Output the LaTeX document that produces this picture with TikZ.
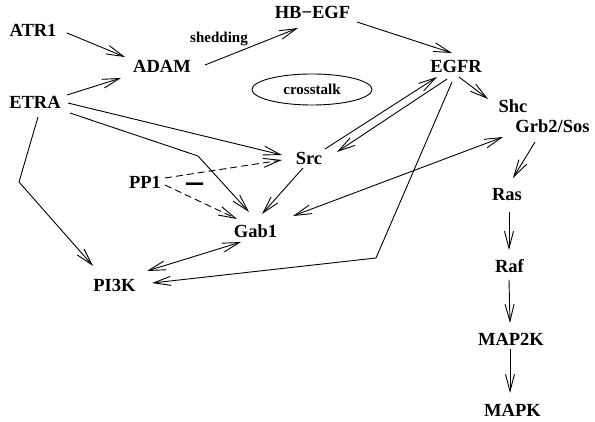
\documentclass[tikz,border=0pt]{standalone}
\usepackage{fontspec}
\setmainfont{Liberation Serif}
\usetikzlibrary{arrows.meta,calc,shapes.geometric}

\tikzset{
  lbl/.style={anchor=base, inner sep=0pt, font=\fontsize{18.5}{20}\selectfont\bfseries},
  small/.style={anchor=base, inner sep=0pt, font=\fontsize{15}{17}\selectfont\bfseries},
  link/.style={line width=0.9pt, -{Straight Barb[length=17pt,width=9pt,line width=0.9pt]}},
  both/.style={line width=0.9pt, {Straight Barb[length=17pt,width=9pt,line width=0.9pt]}-{Straight Barb[length=17pt,width=9pt,line width=0.9pt]}},
  inhib/.style={link, dash pattern=on 7pt off 4pt},
}

\begin{document}
\begin{tikzpicture}[x=1pt,y=-1pt]
  \useasboundingbox (0,0) rectangle (595,422);

  % signalling species
  \node[lbl] (ATR1)  at (33,37)    {ATR1};
  \node[lbl] (ADAM)  at (162,73)   {ADAM};
  \node[small] (shed) at (219,43)  {shedding};
  \node[lbl] (HBEGF) at (312.5,19) {HB−EGF};
  \node[ellipse, draw, line width=0.9pt, inner sep=0pt, minimum width=120pt, minimum height=31pt,
        font=\fontsize{15}{17}\selectfont\bfseries] (xtalk) at (312,89.5) {crosstalk};
  \node[lbl] (EGFR)  at (456,73)   {EGFR};
  \node[lbl] (Shc)   at (513,113)  {Shc};
  \node[lbl] (Grb)   at (552.5,133){Grb2/Sos};
  \node[lbl] (ETRA)  at (35,109)   {ETRA};
  \node[lbl] (Src)   at (309,165)  {Src};
  \node[lbl] (PP1)   at (145,189)  {PP1};
  \node[anchor=base, inner sep=0pt, font=\fontsize{37}{37}\selectfont\bfseries] (minus) at (195,197) {−};
  \node[lbl] (Gab1)  at (255.5,238){Gab1};
  \node[lbl] (PI3K)  at (114.5,292){PI3K};
  \node[lbl] (Ras)   at (507,201)  {Ras};
  \node[lbl] (Raf)   at (509.5,273){Raf};
  \node[lbl] (MAP2K) at (511,345)  {MAP2K};
  \node[lbl] (MAPK)  at (512.5,417){MAPK};

  % bend points of the routed connectors
  \coordinate (kEGFR) at (376,258);
  \coordinate (kGab)  at (198,156);
  \coordinate (kPI3K) at (19,182);

  % receptor activation
  \draw[link] ($(ATR1.base)+(34,-4)$) -- ($(ADAM.base)+(-37,-16)$);
  \draw[link] ($(ETRA.base)+(32,-14)$) -- ($(ADAM.base)+(-41,5)$);
  \draw[link] ($(ADAM.base)+(43,-8)$) -- ($(HBEGF.base)+(-14.5,9)$);
  \draw[link] ($(HBEGF.base)+(44.5,3)$) -- ($(EGFR.base)+(-4,-20)$);
  \draw[link] ($(EGFR.base)+(3,4)$) -- ($(Shc.base)+(-25,-14)$);
  \draw[link] ($(Src.base)+(16,-16)$) -- ($(EGFR.base)+(-19,4)$);
  \draw[link] ($(EGFR.base)+(-9,6)$) -- ($(Src.base)+(28,-13)$);
  \draw[link] ($(EGFR.base)+(-4,9)$) -- (kEGFR) -- ($(PI3K.base)+(37.5,-9)$);

  % MAPK cascade
  \draw[both] ($(Grb.base)+(-49.5,4)$) -- ($(Gab1.base)+(37.5,-22)$);
  \draw[link] ($(Grb.base)+(-17.5,9)$) -- ($(Ras.base)+(6,-23)$);
  \draw[link] ($(Ras.base)+(2,11)$) -- ($(Raf.base)+(-0.5,-23)$);
  \draw[link] ($(Raf.base)+(-0.5,7)$) -- ($(MAP2K.base)+(-1,-22)$);
  \draw[link] ($(MAP2K.base)+(-1,4)$) -- ($(MAPK.base)+(-2.5,-24)$);

  % ETRA targets
  \draw[link] ($(ETRA.base)+(33,-6)$) -- ($(Src.base)+(-27,-10)$);
  \draw[link] ($(ETRA.base)+(35,4)$) -- (kGab) -- ($(Gab1.base)+(-6.5,-26)$);
  \draw[link] ($(ETRA.base)+(3,8)$) -- (kPI3K) -- ($(PI3K.base)+(-21.5,-26)$);

  % PP1 inhibition
  \draw[inhib] ($(PP1.base)+(20,-11)$) -- ($(Src.base)+(-27,-5)$);
  \draw[inhib] ($(PP1.base)+(20,-4)$) -- ($(Gab1.base)+(-18.5,-19)$);

  % Src / Gab1 / PI3K
  \draw[link] ($(Src.base)+(-6,3)$) -- ($(Gab1.base)+(6.5,-24)$);
  \draw[both] ($(Gab1.base)+(-14.5,4)$) -- ($(PI3K.base)+(32.5,-21)$);
\end{tikzpicture}
\end{document}
